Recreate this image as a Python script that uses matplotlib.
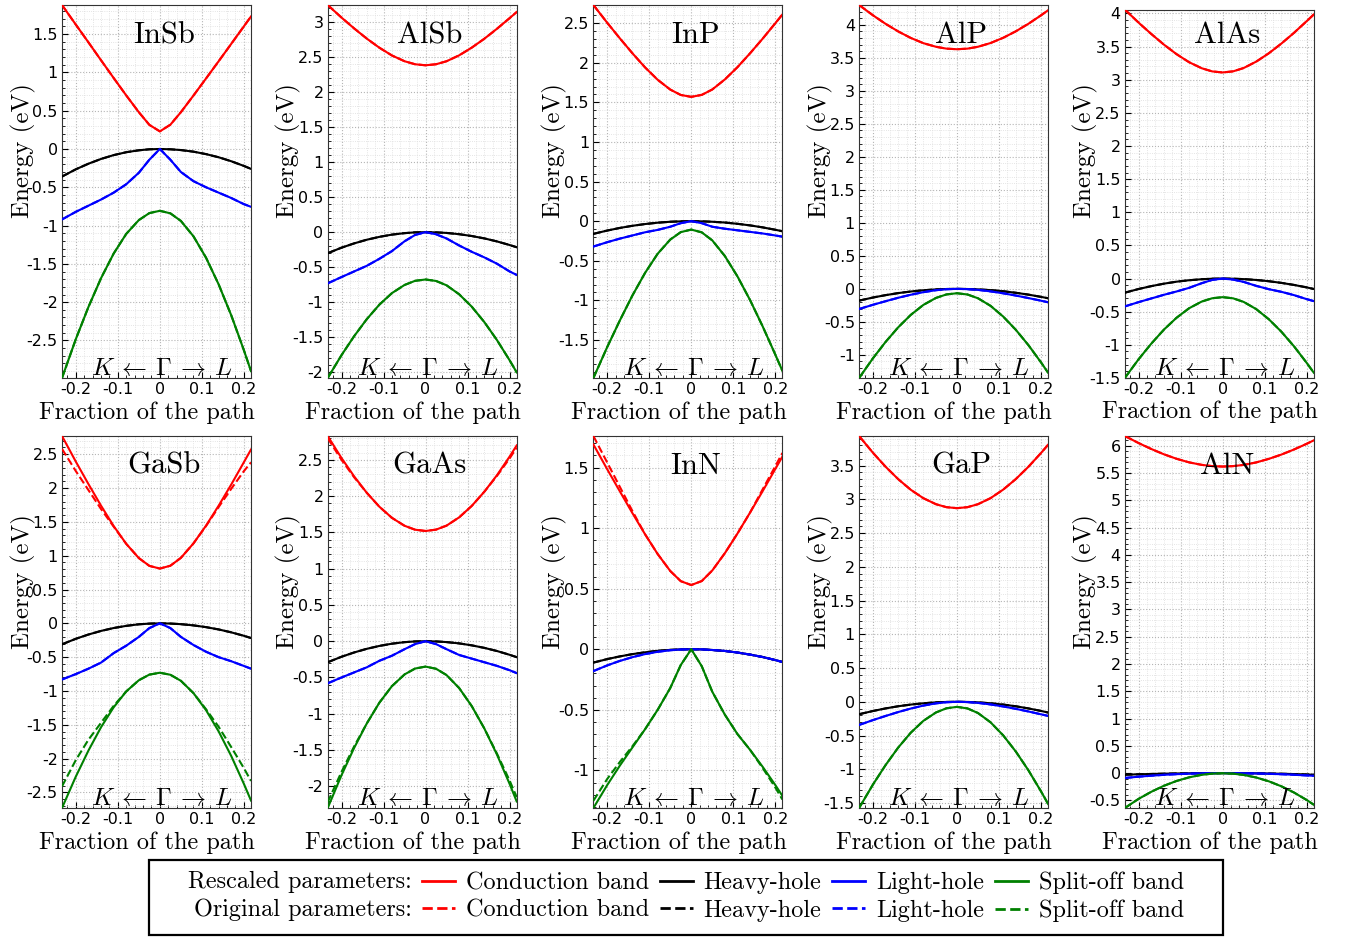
import matplotlib
matplotlib.use("Agg")
import matplotlib.pyplot as plt
from matplotlib.lines import Line2D
from matplotlib.patches import Rectangle
from matplotlib.ticker import MultipleLocator, FuncFormatter

plt.rcParams["mathtext.fontset"] = "cm"
plt.rcParams["axes.unicode_minus"] = False

# fraction of the path (negative: towards K, positive: towards L)
X = [-0.233, -0.2, -0.17, -0.14, -0.11, -0.08, -0.05, -0.025, 0,
     0.025, 0.05, 0.08, 0.11, 0.14, 0.17, 0.2, 0.217]

materials = ["InSb", "AlSb", "InP", "AlP", "AlAs", "GaSb", "GaAs", "InN", "GaP", "AlN"]

# rescaled parameters (eV), bands: conduction, heavy-hole, light-hole, split-off
insb = {
    "cb": [1.88, 1.623, 1.392, 1.158, 0.927, 0.699, 0.48, 0.315, 0.23,
           0.317, 0.48, 0.698, 0.921, 1.146, 1.373, 1.601, 1.73],
    "hh": [-0.36, -0.265, -0.192, -0.13, -0.08, -0.042, -0.017, -0.004, 0,
           -0.004, -0.014, -0.035, -0.067, -0.108, -0.16, -0.221, -0.26],
    "lh": [-0.92, -0.82, -0.74, -0.66, -0.57, -0.46, -0.31, -0.14, 0,
           -0.14, -0.3, -0.42, -0.5, -0.57, -0.64, -0.72, -0.755],
    "so": [-2.99, -2.481, -2.062, -1.686, -1.365, -1.108, -0.928, -0.837, -0.807,
           -0.84, -0.939, -1.14, -1.42, -1.768, -2.172, -2.626, -2.9],
}
alsb = {
    "cb": [3.24, 3.06, 2.906, 2.761, 2.631, 2.52, 2.438, 2.395, 2.38,
           2.395, 2.438, 2.522, 2.632, 2.759, 2.901, 3.052, 3.14],
    "hh": [-0.3, -0.221, -0.16, -0.108, -0.067, -0.035, -0.014, -0.003, 0,
           -0.003, -0.011, -0.029, -0.055, -0.089, -0.132, -0.183, -0.215],
    "lh": [-0.73, -0.64, -0.56, -0.48, -0.38, -0.27, -0.13, -0.04, 0,
           -0.03, -0.09, -0.19, -0.28, -0.36, -0.45, -0.56, -0.61],
    "so": [-2.08, -1.753, -1.483, -1.241, -1.034, -0.869, -0.753, -0.694, -0.675,
           -0.696, -0.758, -0.886, -1.063, -1.283, -1.539, -1.826, -2.0],
}
inp = {
    "cb": [2.73, 2.505, 2.309, 2.12, 1.942, 1.786, 1.662, 1.594, 1.57,
           1.595, 1.663, 1.79, 1.945, 2.12, 2.305, 2.499, 2.61],
    "hh": [-0.16, -0.118, -0.085, -0.058, -0.036, -0.019, -0.007, -0.002, 0,
           -0.002, -0.007, -0.017, -0.033, -0.053, -0.078, -0.108, -0.127],
    "lh": [-0.32, -0.265, -0.22, -0.18, -0.14, -0.11, -0.07, -0.025, 0,
           -0.025, -0.07, -0.095, -0.115, -0.135, -0.155, -0.18, -0.195],
    "so": [-1.98, -1.588, -1.253, -0.937, -0.653, -0.411, -0.232, -0.138, -0.106,
           -0.141, -0.242, -0.44, -0.697, -0.996, -1.328, -1.683, -1.89],
}
alp = {
    "cb": [4.3, 4.144, 4.015, 3.9, 3.801, 3.722, 3.667, 3.639, 3.63,
           3.639, 3.667, 3.724, 3.803, 3.901, 4.015, 4.143, 4.22],
    "hh": [-0.178, -0.131, -0.095, -0.064, -0.04, -0.021, -0.008, -0.002, 0,
           -0.002, -0.008, -0.019, -0.036, -0.059, -0.087, -0.121, -0.142],
    "lh": [-0.305, -0.241, -0.187, -0.135, -0.089, -0.05, -0.02, -0.005, 0,
           -0.004, -0.015, -0.038, -0.067, -0.101, -0.139, -0.179, -0.203],
    "so": [-1.35, -1.051, -0.804, -0.583, -0.394, -0.243, -0.137, -0.084, -0.066,
           -0.085, -0.142, -0.257, -0.419, -0.619, -0.851, -1.112, -1.27],
}
alas = {
    "cb": [4.06, 3.861, 3.691, 3.531, 3.387, 3.265, 3.174, 3.126, 3.11,
           3.127, 3.177, 3.274, 3.4, 3.547, 3.709, 3.884, 3.985],
    "hh": [-0.213, -0.157, -0.114, -0.077, -0.047, -0.025, -0.01, -0.002, 0,
           -0.002, -0.008, -0.021, -0.04, -0.065, -0.096, -0.133, -0.157],
    "lh": [-0.42, -0.355, -0.3, -0.245, -0.195, -0.14, -0.07, -0.02, 0,
           -0.015, -0.05, -0.11, -0.16, -0.2, -0.25, -0.31, -0.34],
    "so": [-1.5, -1.216, -0.982, -0.771, -0.592, -0.448, -0.347, -0.297, -0.28,
           -0.298, -0.352, -0.461, -0.614, -0.803, -1.023, -1.271, -1.42],
}
gasb = {
    "cb": [2.77, 2.39, 2.059, 1.739, 1.439, 1.175, 0.965, 0.85, 0.81,
           0.852, 0.968, 1.182, 1.445, 1.74, 2.053, 2.382, 2.57],
    "hh": [-0.31, -0.228, -0.165, -0.112, -0.069, -0.037, -0.014, -0.004, 0,
           -0.003, -0.012, -0.03, -0.056, -0.09, -0.133, -0.184, -0.217],
    "lh": [-0.83, -0.75, -0.67, -0.58, -0.44, -0.33, -0.2, -0.07, 0,
           -0.07, -0.2, -0.32, -0.42, -0.5, -0.56, -0.63, -0.67],
    "so": [-2.73, -2.264, -1.88, -1.535, -1.241, -1.006, -0.841, -0.758, -0.73,
           -0.76, -0.849, -1.031, -1.284, -1.598, -1.962, -2.372, -2.62],
}
gaas = {
    "cb": [2.83, 2.525, 2.273, 2.047, 1.855, 1.701, 1.592, 1.538, 1.52,
           1.539, 1.594, 1.708, 1.866, 2.062, 2.289, 2.545, 2.7],
    "hh": [-0.29, -0.214, -0.155, -0.105, -0.065, -0.034, -0.013, -0.003, 0,
           -0.003, -0.012, -0.03, -0.057, -0.092, -0.135, -0.187, -0.22],
    "lh": [-0.58, -0.5, -0.43, -0.36, -0.27, -0.2, -0.11, -0.04, 0,
           -0.04, -0.11, -0.19, -0.24, -0.29, -0.34, -0.4, -0.44],
    "so": [-2.3, -1.846, -1.471, -1.135, -0.848, -0.619, -0.458, -0.377, -0.35,
           -0.38, -0.467, -0.646, -0.895, -1.204, -1.563, -1.966, -2.21],
}
inn = {
    "cb": [1.69, 1.485, 1.303, 1.123, 0.949, 0.786, 0.646, 0.562, 0.53,
           0.563, 0.65, 0.793, 0.955, 1.128, 1.305, 1.487, 1.59],
    "hh": [-0.11, -0.081, -0.059, -0.04, -0.025, -0.013, -0.005, -0.001, 0,
           -0.001, -0.006, -0.014, -0.027, -0.044, -0.064, -0.089, -0.105],
    "lh": [-0.18, -0.133, -0.096, -0.065, -0.04, -0.021, -0.008, -0.002, 0,
           -0.001, -0.006, -0.014, -0.027, -0.044, -0.064, -0.089, -0.105],
    "so": [-1.31, -1.12, -0.96, -0.81, -0.66, -0.5, -0.32, -0.13, 0,
           -0.14, -0.35, -0.54, -0.7, -0.83, -0.97, -1.12, -1.21],
}
gap = {
    "cb": [3.94, 3.691, 3.485, 3.301, 3.143, 3.018, 2.929, 2.885, 2.87,
           2.885, 2.929, 3.019, 3.145, 3.301, 3.483, 3.687, 3.81],
    "hh": [-0.184, -0.136, -0.098, -0.066, -0.041, -0.022, -0.008, -0.002, 0,
           -0.002, -0.008, -0.022, -0.041, -0.066, -0.098, -0.135, -0.159],
    "lh": [-0.343, -0.271, -0.21, -0.152, -0.1, -0.056, -0.023, -0.006, 0,
           -0.004, -0.016, -0.039, -0.069, -0.104, -0.143, -0.185, -0.209],
    "so": [-1.574, -1.226, -0.938, -0.679, -0.458, -0.282, -0.158, -0.096, -0.075,
           -0.098, -0.166, -0.304, -0.497, -0.736, -1.014, -1.326, -1.514],
}
aln = {
    "cb": [6.18, 6.05, 5.942, 5.845, 5.763, 5.697, 5.651, 5.628, 5.62,
           5.628, 5.65, 5.696, 5.761, 5.84, 5.933, 6.037, 6.1],
    "hh": [-0.03, -0.022, -0.016, -0.011, -0.007, -0.004, -0.001, 0, 0,
           0, -0.002, -0.004, -0.008, -0.012, -0.018, -0.026, -0.03],
    "lh": [-0.09, -0.066, -0.048, -0.032, -0.02, -0.011, -0.004, -0.001, 0,
           -0.001, -0.003, -0.007, -0.013, -0.021, -0.031, -0.043, -0.05],
    "so": [-0.64, -0.472, -0.343, -0.233, -0.145, -0.078, -0.032, -0.01, -0.003,
           -0.011, -0.034, -0.081, -0.151, -0.243, -0.357, -0.493, -0.58],
}

# original parameters, only the bands that differ visibly from the rescaled ones
gasb_orig = {
    "cb": [2.58, 2.25, 1.97, 1.69, 1.43, 1.175, 0.965, 0.85, 0.81,
           0.852, 0.968, 1.182, 1.44, 1.72, 1.99, 2.25, 2.38],
    "so": [-2.41, -2.02, -1.72, -1.47, -1.22, -1.006, -0.841, -0.758, -0.73,
           -0.76, -0.849, -1.031, -1.27, -1.53, -1.83, -2.14, -2.33],
}
gaas_orig = {
    "cb": [2.8, 2.5, 2.26, 2.047, 1.855, 1.701, 1.592, 1.538, 1.52,
           1.539, 1.594, 1.708, 1.866, 2.062, 2.28, 2.52, 2.67],
    "so": [-2.22, -1.8, -1.45, -1.135, -0.848, -0.619, -0.458, -0.377, -0.35,
           -0.38, -0.467, -0.646, -0.895, -1.204, -1.55, -1.92, -2.15],
}
inn_orig = {
    "cb": [1.76, 1.54, 1.34, 1.14, 0.949, 0.786, 0.646, 0.562, 0.53,
           0.563, 0.65, 0.793, 0.955, 1.128, 1.32, 1.51, 1.62],
    "so": [-1.25, -1.07, -0.93, -0.8, -0.66, -0.5, -0.32, -0.13, 0,
           -0.14, -0.35, -0.54, -0.7, -0.83, -0.98, -1.14, -1.24],
}

rescaled = [insb, alsb, inp, alp, alas, gasb, gaas, inn, gap, aln]
original = {"GaSb": gasb_orig, "GaAs": gaas_orig, "InN": inn_orig}

bands = ["cb", "hh", "lh", "so"]
band_names = ["Conduction band", "Heavy-hole", "Light-hole", "Split-off band"]
colors = ["red", "black", "blue", "green"]

W, H = 1345, 938
fig = plt.figure(figsize=(W / 100, H / 100), dpi=100)

cm_font = {"family": "cmr10"}


def fmt(v, pos):
    if abs(v) < 1e-9:
        return "0"
    return "%g" % round(v, 3)


for i, (name, data) in enumerate(zip(materials, rescaled)):
    row, col = divmod(i, 5)
    left = 62 + 265.7 * col
    row_top = 5 if row == 0 else 436
    top = 9.5 if name == "AlAs" else row_top
    bottom = 378 if row == 0 else 808
    ax = fig.add_axes([left / W, 1 - bottom / H, 189 / W, (bottom - top) / H])

    orig = original.get(name, {})
    allvals = []
    for b, c in zip(bands, colors):
        ax.plot(X, data[b], color=c, lw=1.5, zorder=3)
        ov = orig.get(b, data[b])
        ax.plot(X, ov, color=c, lw=1.5, ls="--", zorder=3)
        allvals += data[b] + ov

    ax.set_xlim(X[0], X[-1])
    ax.set_ylim(min(allvals), max(allvals))

    ax.xaxis.set_major_locator(MultipleLocator(0.1))
    ax.xaxis.set_minor_locator(MultipleLocator(0.02))
    ax.yaxis.set_major_locator(MultipleLocator(0.5))
    ax.yaxis.set_minor_locator(MultipleLocator(0.1))
    ax.xaxis.set_major_formatter(FuncFormatter(fmt))
    ax.yaxis.set_major_formatter(FuncFormatter(fmt))
    ax.tick_params(which="both", direction="in", labelsize=11.5, pad=3)
    ax.tick_params(which="major", length=4)
    ax.tick_params(which="minor", length=2)
    ax.grid(which="major", color="#b5b5b5", ls=":", lw=0.8)
    ax.grid(which="minor", color="#dcdcdc", ls=":", lw=0.6)
    ax.set_axisbelow(True)
    for s in ax.spines.values():
        s.set_linewidth(0.8)
        s.set_color("#333333")

    ax.set_ylabel("Energy (eV)", fontsize=18, fontdict=cm_font)
    ax.yaxis.set_label_coords(-0.14, (bottom - (row_top + 146)) / (bottom - top))
    ax.set_xlabel("Fraction of the path", fontsize=17.5, fontdict=cm_font)
    ax.xaxis.set_label_coords(0.45, -0.062)

    ax.text(0.54, (bottom - (row_top + 38)) / (bottom - top), name, transform=ax.transAxes,
            ha="center", va="baseline", fontsize=22, family="cmr10", zorder=5)
    ax.text(0.53, 0.008, r"$K\:\leftarrow\:\Gamma\:\rightarrow\:L$", transform=ax.transAxes,
            ha="center", va="baseline", fontsize=18, zorder=5)

# legend
handles, labels = [], []
for nm, c in zip(band_names, colors):
    handles += [Line2D([], [], color=c, lw=2), Line2D([], [], color=c, lw=2, ls="--")]
    labels += [nm, nm]
fig.legend(handles, labels, ncol=4, loc="center left",
           bbox_to_anchor=(422 / W, 1 - 897 / H), frameon=False, borderpad=0,
           borderaxespad=0, handlelength=1.35, handletextpad=0.45, columnspacing=0.45,
           labelspacing=0.22, prop={"family": "cmr10", "size": 17.5})
fig.text(412 / W, 1 - 882 / H, "Rescaled parameters:", ha="right", va="center",
         family="cmr10", fontsize=17.5)
fig.text(412 / W, 1 - 910 / H, "Original parameters:", ha="right", va="center",
         family="cmr10", fontsize=17.5)
fig.patches.append(Rectangle((149 / W, 1 - 935 / H), 1074 / W, 75 / H,
                             transform=fig.transFigure, fill=False, lw=1.6, ec="black"))

fig.savefig("out.png", dpi=100)
